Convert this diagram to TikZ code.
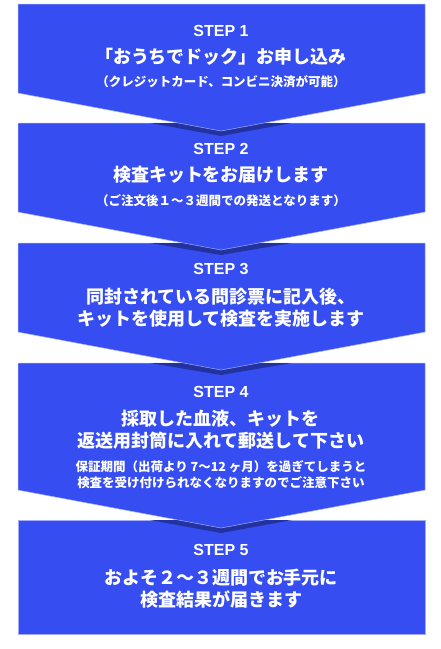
\documentclass[tikz,border=0pt]{standalone}
\usepackage{fontspec}
\setmainfont{Noto Sans CJK JP}
\newfontfamily\steplatin{Liberation Sans}

\definecolor{stepblue}{HTML}{354DF1}
\definecolor{stepshadow}{HTML}{22329E}
\definecolor{stepedge}{HTML}{A3ACF8}

\tikzset{
  stepbox/.style={fill=stepblue,draw=stepedge,line width=0.5pt},
  tipshadow/.style={fill=stepshadow},
  steplabel/.style={text=white,font=\steplatin\bfseries\fontsize{16}{19}\selectfont},
  steptitle/.style={text=white,align=center,font=\bfseries\fontsize{18}{22}\selectfont},
  stepnote/.style={text=white,align=center,font=\bfseries\fontsize{12.5}{16}\selectfont},
}

\begin{document}
\begin{tikzpicture}[x=1pt,y=-1pt]
  \useasboundingbox (0,0) rectangle (440,649);

  % boxes, last one first so each tip lies on the next box
  \draw[stepbox] (18,520) rectangle (425,634);
  \fill[tipshadow] (150,520) -- (221,533) -- (292,520) -- cycle;
  \draw[stepbox] (18,363) -- (425,363) -- (425,490) -- (221,528) -- (18,490) -- cycle;
  \fill[tipshadow] (150,363) -- (221,375) -- (292,363) -- cycle;
  \draw[stepbox] (18,243) -- (425,243) -- (425,332) -- (221,370) -- (18,332) -- cycle;
  \fill[tipshadow] (150,243) -- (221,255) -- (292,243) -- cycle;
  \draw[stepbox] (18,123) -- (425,123) -- (425,212) -- (221,250) -- (18,212) -- cycle;
  \fill[tipshadow] (150,123) -- (221,136) -- (292,123) -- cycle;
  \draw[stepbox] (18,4) -- (425,4) -- (425,93) -- (221,131) -- (18,93) -- cycle;

  % step 1
  \node[steplabel] (s1) at (221,31) {STEP 1};
  \node[steptitle] (t1) at (221,57) {「おうちでドック」お申し込み};
  \node[stepnote] (n1) at (221,82) {（クレジットカード、コンビニ決済が可能）};

  % step 2
  \node[steplabel] (s2) at (221,149) {STEP 2};
  \node[steptitle] (t2) at (221,175) {検査キットをお届けします};
  \node[stepnote] (n2) at (221,201) {（ご注文後１〜３週間での発送となります）};

  % step 3
  \node[steplabel] (s3) at (221,269) {STEP 3};
  \node[steptitle] (t3) at (221,307.5) {同封されている問診票に記入後、\\キットを使用して検査を実施します};

  % step 4
  \node[steplabel] (s4) at (221,392) {STEP 4};
  \node[steptitle] (t4) at (221,430) {採取した血液、キットを\\返送用封筒に入れて郵送して下さい};
  \node[stepnote] (n4) at (221,475) {保証期間（出荷より 7〜12 ヶ月）を過ぎてしまうと\\検査を受け付けられなくなりますのでご注意下さい};

  % step 5
  \node[steplabel] (s5) at (221,550) {STEP 5};
  \node[steptitle] (t5) at (221,588.5) {およそ２〜３週間でお手元に\\検査結果が届きます};
\end{tikzpicture}
\end{document}
